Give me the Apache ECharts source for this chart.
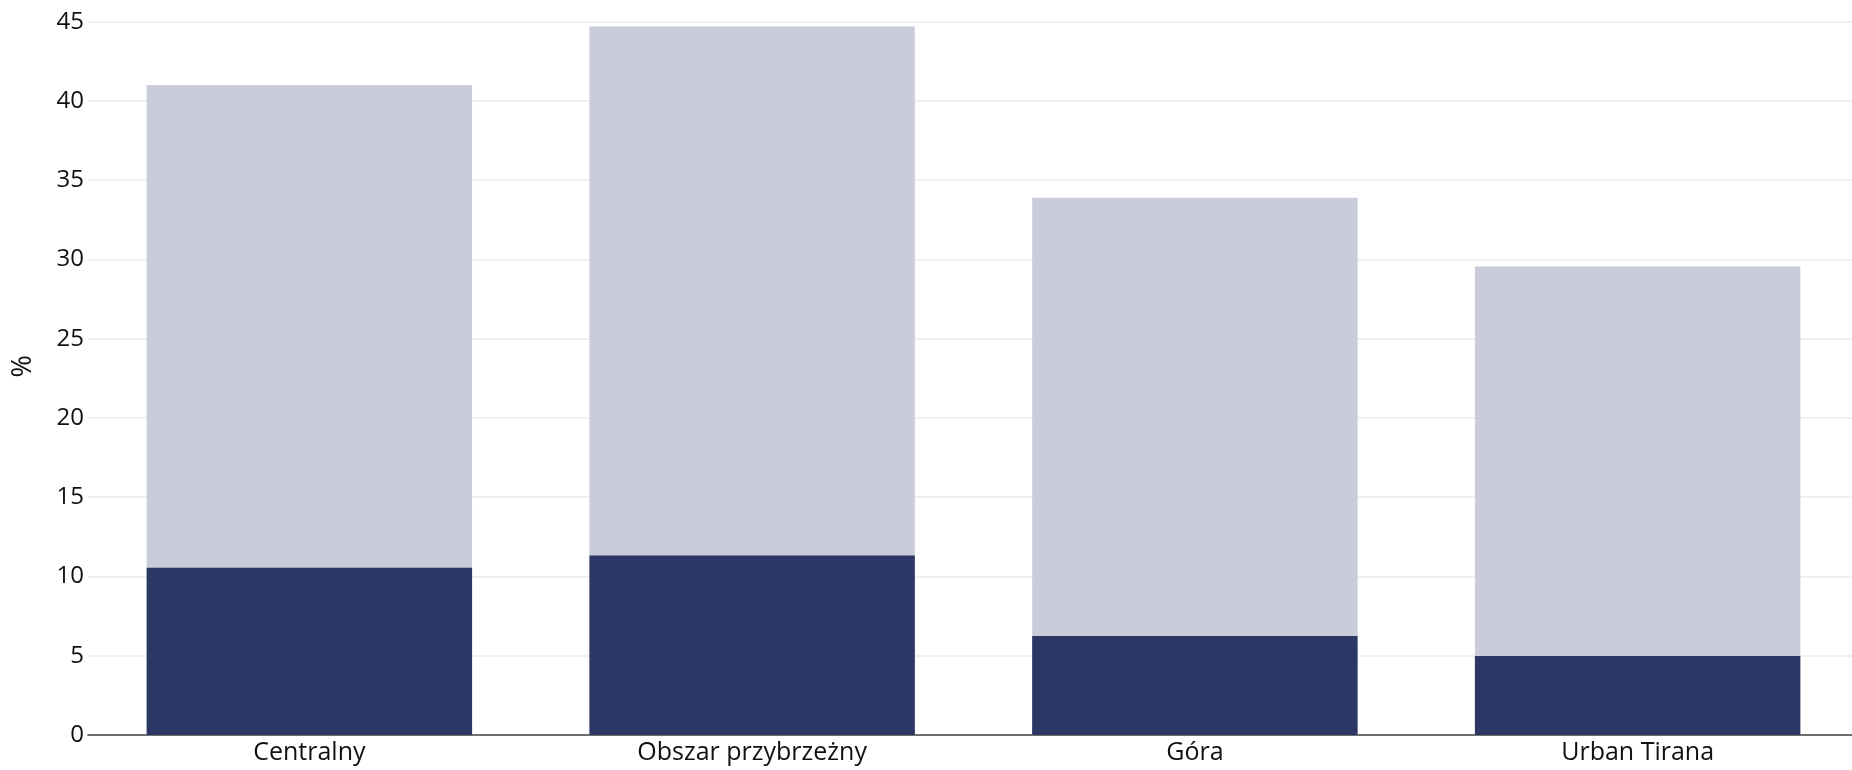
<!DOCTYPE html>
<html>
<head>
<meta charset="utf-8">
<script src="https://cdn.jsdelivr.net/npm/echarts@6/dist/echarts.min.js"></script>
<style>
html,body{margin:0;padding:0;background:#fff;}
#chart{width:1852px;height:770px;}
</style>
</head>
<body>
<div id="chart"></div>
<script>
const categories = ['Centralny', 'Obszar przybrzeżny', 'Góra', 'Urban Tirana'];
const totalValues = [41.0, 44.7, 33.9, 29.55];
const subValues = [10.55, 11.33, 6.24, 4.98];
const yTicks = { min: 0, max: 45, interval: 5 };

const chart = echarts.init(document.getElementById('chart'));
const font = '"Open Sans", "Noto Sans", sans-serif';
chart.setOption({
  animation: false,
  grid: { left: 88, width: 1771, top: 21.7, bottom: 35, containLabel: false, outerBoundsMode: 'none' },
  xAxis: {
    type: 'category',
    data: categories,
    axisLine: { show: true, lineStyle: { color: '#444444', width: 1.5 } },
    axisTick: { show: false },
    axisLabel: { color: '#111111', fontSize: 25, fontFamily: font, margin: 5 },
    z: 1
  },
  yAxis: {
    type: 'value',
    min: yTicks.min, max: yTicks.max, interval: yTicks.interval,
    name: '%',
    nameLocation: 'middle',
    nameGap: 51,
    nameRotate: 90,
    nameTextStyle: { color: '#111111', fontSize: 27, fontFamily: font, padding: [0, 0, 0, 24] },
    axisLine: { show: false },
    axisTick: { show: false },
    axisLabel: { color: '#111111', fontSize: 24, fontFamily: font, margin: 4 },
    splitLine: { lineStyle: { color: '#ebebeb', width: 1.5 } }
  },
  series: [
    {
      name: 'Ogółem',
      type: 'bar',
      data: totalValues,
      barWidth: '73.5%',
      barGap: '-100%',
      itemStyle: { color: '#cacdd9' },
      z: 3
    },
    {
      name: 'Część',
      type: 'bar',
      data: subValues,
      barWidth: '73.5%',
      barGap: '-100%',
      itemStyle: { color: '#2b3764' },
      z: 4
    }
  ]
});
</script>
</body>
</html>
